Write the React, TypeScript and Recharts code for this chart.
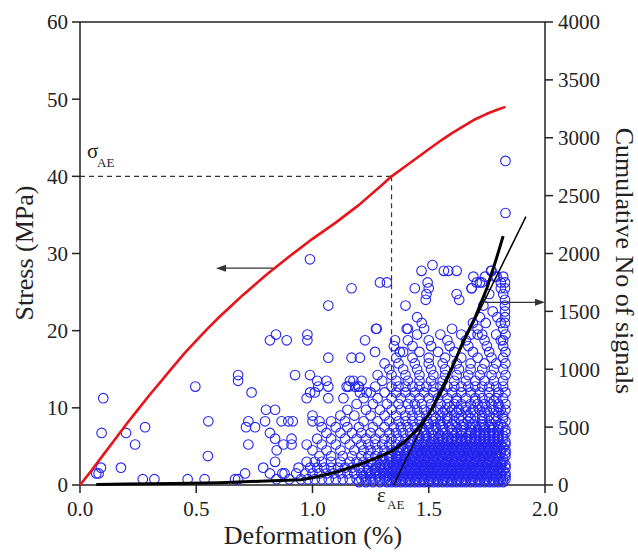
import { ComposedChart, ReferenceLine, Scatter, XAxis, YAxis } from 'recharts';

const FONT = '"Liberation Serif", "Times New Roman", serif';
const INK = '#222';

const X_TICKS = [0, 0.5, 1, 1.5, 2];
const STRESS_TICKS = [0, 10, 20, 30, 40, 50, 60];
const SIGNAL_TICKS = [0, 500, 1000, 1500, 2000, 2500, 3000, 3500, 4000];

// stress-deformation curve (left axis)
const STRESS_X = [0, 0.05, 0.1, 0.15, 0.2, 0.25, 0.3, 0.35, 0.4, 0.45, 0.5, 0.55, 0.6, 0.65, 0.7, 0.8, 0.9, 1.0, 1.1, 1.2, 1.3, 1.34, 1.4, 1.5, 1.56, 1.6, 1.65, 1.7, 1.75, 1.8, 1.83];
const STRESS_Y = [0, 1.9, 3.9, 5.9, 7.9, 9.8, 11.7, 13.5, 15.3, 17.1, 18.7, 20.3, 21.8, 23.2, 24.6, 27.2, 29.6, 31.9, 34.0, 36.3, 38.9, 40.0, 41.3, 43.5, 44.8, 45.6, 46.5, 47.4, 48.1, 48.7, 49.0];

// cumulative number of AE signals (right axis)
const CUM_X = [0.07, 0.2, 0.4, 0.6, 0.8, 0.95, 1.0, 1.1, 1.2, 1.25, 1.3, 1.34, 1.4, 1.45, 1.5, 1.55, 1.6, 1.65, 1.7, 1.75, 1.79, 1.82];
const CUM_Y = [5, 8, 12, 20, 35, 45, 62, 110, 175, 215, 255, 290, 380, 480, 610, 790, 1010, 1250, 1450, 1700, 1950, 2150];

// tangent line that defines eps_AE
const TANGENT_X = [1.348, 1.918];
const TANGENT_Y = [0, 2318];

const SIGMA_AE = 40;
const EPS_AE = 1.34;

// isolated AE hits (deformation %, MPa)
const SPARSE_HITS: [number, number][] = [
  [0.07, 1.5], [0.08, 1.5], [0.09, 2.25], [0.093, 6.75], [0.1, 11.25], [0.176, 2.25], [0.198, 6.75], [0.237, 5.25],
  [0.28, 7.5], [0.27, 0.75], [0.32, 0.75], [0.463, 0.75], [0.496, 12.75], [0.536, 0.75], [0.55, 3.75], [0.552, 8.25],
  [0.68, 14.25], [0.68, 13.5], [0.667, 0.75], [0.68, 0.75], [0.71, 1.5], [0.714, 7.5], [0.724, 8.25], [0.724, 5.25],
  [0.738, 12], [0.753, 7.5], [0.788, 2.25], [0.796, 8.25], [0.8, 9.75], [0.817, 18.75], [0.817, 6.75], [0.817, 1.5],
  [0.839, 9.75], [0.843, 19.5], [0.839, 6], [0.846, 4.5], [0.839, 3], [0.845, 0.75], [0.867, 8.25], [0.875, 5.25],
  [0.889, 18.75], [0.896, 8.25], [0.91, 6], [0.91, 5.25], [0.915, 8.25], [0.925, 14.25], [0.87, 1.5], [0.88, 1.5],
  [0.9, 0.75], [0.93, 1.5], [0.94, 2.25], [0.975, 11.25], [0.975, 5.25], [0.975, 3], [0.978, 19.5], [0.978, 18.75],
  [0.989, 29.25], [0.989, 14.25], [0.99, 12], [1.0, 9], [1.0, 8.25], [1.01, 12], [1.02, 13.5], [1.025, 12.75],
  [1.03, 8.25], [1.06, 13.5], [1.068, 12.75], [1.068, 11.25], [1.068, 23.25], [1.068, 16.5], [1.155, 12.75],
  [1.168, 25.5], [1.168, 16.5], [1.176, 13.5], [1.197, 12.75], [1.204, 16.5], [1.226, 18.75], [1.269, 17.25],
  [1.273, 20.25], [1.29, 26.25], [1.32, 26.25], [1.4, 23.25], [1.41, 20.25], [1.44, 25.5], [1.45, 21.75],
  [1.469, 27.75], [1.47, 21], [1.487, 24], [1.49, 24.75], [1.495, 26.25], [1.5, 25.5], [1.516, 28.5], [1.565, 27.75],
  [1.584, 27.75], [1.62, 27.75], [1.62, 24.75], [1.631, 24], [1.684, 25.5], [1.692, 27], [1.706, 26.25], [1.72, 26.25],
  [1.742, 27], [1.768, 27.75], [1.792, 27], [1.82, 27], [1.82, 24.75], [1.83, 35.25], [1.83, 42],
  [1.685, 25.5], [1.728, 26.25], [1.77, 27.75], [1.785, 27], [1.81, 26.25], [1.81, 25.5], [1.76, 24.75],
  [1.735, 23.25], [1.775, 22.5], [1.795, 21.75], [1.81, 21], [1.72, 21.75], [1.69, 21], [1.745, 21],
  [1.68, 19.5], [1.71, 19.5], [1.79, 19.5], [1.81, 18.75],
  [1.147, 12.75], [1.161, 13.5], [1.183, 12.75], [1.211, 13.5], [1.204, 12], [1.133, 11.25], [1.233, 12],
  [1.276, 20.25], [1.355, 18.75], [1.405, 20.25], [1.376, 17.25],
  [1.828, 21], [1.828, 21.75], [1.828, 22.5], [1.828, 23.25], [1.828, 24], [1.828, 25.5], [1.828, 26.25],
];

// dense band: amplitude levels (MPa) and the deformation of each hit on them (x100)
const DENSE_LEVELS = [0.75, 1.5, 2.25, 3, 3.75, 4.5, 5.25, 6, 6.75, 7.5, 8.25, 9, 9.75, 10.5, 11.25, 12, 12.75, 13.5, 14.25, 15, 15.75, 16.5, 17.25, 18, 18.75, 19.5, 20.25];
const DENSE_ROWS: number[][] = [
  [95, 98, 101, 104, 107, 110, 113, 116, 119, 121, 123, 125, 127, 129, 131, 133, 135, 136, 138, 139, 141, 142, 144, 145, 147, 148, 150, 151, 153, 154, 156, 157, 159, 160, 162, 163, 165, 166, 168, 169, 171, 172, 174, 175, 177, 178, 180, 181, 182, 183],
  [97, 100, 103, 106, 109, 112, 115, 118, 121, 123, 125, 127, 129, 131, 133, 134, 136, 137, 139, 140, 142, 143, 145, 146, 148, 149, 151, 152, 154, 155, 157, 158, 160, 161, 163, 164, 166, 167, 169, 170, 172, 173, 175, 176, 178, 179, 181, 183],
  [99, 102, 105, 108, 111, 114, 117, 120, 122, 124, 127, 129, 131, 133, 135, 136, 138, 139, 141, 142, 144, 145, 147, 148, 150, 151, 153, 154, 156, 157, 159, 160, 162, 163, 165, 166, 168, 169, 171, 172, 174, 175, 177, 178, 180, 181, 183],
  [101, 104, 108, 112, 116, 119, 122, 125, 128, 131, 134, 136, 137, 139, 140, 142, 143, 145, 146, 148, 149, 151, 152, 154, 155, 157, 158, 160, 161, 163, 164, 166, 167, 169, 170, 172, 173, 175, 176, 178, 179, 181, 182],
  [103, 108, 113, 117, 121, 124, 127, 130, 133, 136, 138, 140, 141, 143, 144, 146, 147, 149, 150, 152, 153, 155, 156, 158, 159, 161, 162, 164, 165, 167, 168, 170, 171, 173, 174, 176, 177, 179, 180, 183],
  [100, 106, 112, 118, 122, 125, 128, 131, 134, 137, 139, 141, 143, 145, 146, 148, 149, 151, 152, 154, 155, 157, 158, 160, 161, 163, 164, 166, 167, 169, 170, 172, 173, 175, 176, 178, 179, 181, 183],
  [104, 110, 116, 121, 124, 127, 130, 133, 136, 139, 142, 145, 147, 149, 151, 153, 155, 157, 159, 161, 163, 165, 167, 169, 171, 173, 175, 177, 179, 181, 183],
  [102, 108, 114, 119, 123, 127, 131, 134, 137, 140, 143, 146, 149, 152, 154, 156, 158, 160, 162, 164, 166, 168, 170, 172, 174, 176, 178, 180, 182],
  [106, 112, 117, 121, 125, 129, 133, 136, 139, 142, 145, 148, 151, 154, 157, 160, 162, 164, 166, 168, 170, 172, 174, 176, 178, 180, 183],
  [104, 110, 115, 120, 126, 131, 135, 138, 141, 144, 147, 150, 153, 156, 159, 162, 165, 168, 170, 172, 174, 176, 178, 180, 182],
  [108, 114, 122, 128, 133, 137, 140, 143, 146, 149, 152, 155, 158, 161, 164, 167, 170, 173, 176, 179, 183],
  [112, 118, 125, 131, 136, 140, 143, 146, 149, 152, 155, 158, 161, 164, 167, 170, 173, 176, 179, 182],
  [115, 123, 129, 134, 138, 142, 145, 148, 151, 154, 157, 160, 163, 166, 169, 172, 175, 178, 181, 183],
  [119, 126, 132, 137, 141, 144, 147, 151, 155, 158, 161, 164, 168, 171, 174, 177, 180, 183],
  [122, 128, 134, 138, 142, 146, 150, 154, 158, 162, 166, 170, 173, 176, 179, 182],
  [125, 131, 136, 140, 144, 148, 152, 156, 160, 164, 168, 172, 176, 180, 183],
  [120, 127, 134, 137, 140, 143, 146, 149, 152, 155, 158, 161, 164, 167, 170, 173, 176, 179, 182],
  [130, 136, 141, 146, 151, 156, 161, 166, 170, 174, 178, 182],
  [128, 134, 140, 146, 152, 157, 162, 167, 172, 177, 183],
  [133, 139, 145, 151, 157, 163, 168, 173, 178, 182],
  [131, 137, 144, 150, 156, 162, 168, 174, 179, 183],
  [136, 143, 150, 157, 164, 171, 177, 182],
  [139, 146, 154, 161, 169, 176, 183],
  [135, 143, 151, 159, 167, 175, 182],
  [141, 150, 158, 166, 174, 182],
  [145, 155, 164, 173, 183],
  [148, 160, 171, 182],
];

// in-between amplitude levels, only filled in the saturated lower-right part
const HALF_LEVELS = [0.375, 1.125, 1.875, 2.625, 3.375, 4.125, 4.875, 5.625, 6.375, 7.125, 7.875, 8.625, 9.375, 10.125, 10.875];
const HALF_ROWS: number[][] = [
  [120, 123, 126, 129, 132, 134, 136, 138, 140, 142, 144, 146, 148, 150, 152, 154, 156, 158, 160, 162, 164, 166, 168, 170, 172, 174, 176, 178, 180, 182],
  [122, 125, 128, 131, 133, 135, 137, 139, 141, 143, 145, 147, 149, 151, 153, 155, 157, 159, 161, 163, 165, 167, 169, 171, 173, 175, 177, 179, 181, 183],
  [124, 127, 130, 132, 134, 136, 138, 140, 142, 144, 146, 148, 150, 152, 154, 156, 158, 160, 162, 164, 166, 168, 170, 172, 174, 176, 178, 180, 182],
  [126, 129, 131, 133, 135, 137, 139, 141, 143, 145, 147, 149, 151, 153, 155, 157, 159, 161, 163, 165, 167, 169, 171, 173, 175, 177, 179, 181, 183],
  [130, 133, 136, 138, 140, 142, 144, 146, 148, 150, 152, 154, 156, 158, 160, 162, 164, 166, 168, 170, 172, 174, 176, 178, 180, 182],
  [134, 137, 140, 143, 145, 147, 149, 151, 153, 155, 157, 159, 161, 163, 165, 167, 169, 171, 173, 175, 177, 179, 181, 183],
  [138, 141, 144, 146, 148, 150, 152, 154, 156, 158, 160, 162, 164, 166, 168, 170, 172, 174, 176, 178, 180, 182],
  [142, 145, 148, 151, 154, 156, 158, 160, 162, 164, 166, 168, 170, 172, 174, 176, 178, 180, 183],
  [146, 149, 152, 155, 158, 161, 164, 167, 170, 172, 174, 176, 178, 180, 182],
  [148, 152, 156, 160, 164, 168, 171, 174, 177, 180, 183],
  [150, 155, 160, 165, 169, 173, 177, 181],
  [153, 158, 163, 168, 173, 178, 182],
  [156, 162, 168, 174, 180],
  [159, 166, 173, 180],
  [162, 170, 178],
];

const stressData = STRESS_X.map((x, i) => ({ x, y: STRESS_Y[i] }));
const cumData = CUM_X.map((x, i) => ({ x, y: CUM_Y[i] }));
const tangentData = TANGENT_X.map((x, i) => ({ x, y: TANGENT_Y[i] }));
const hitData = [
  ...DENSE_ROWS.flatMap((row, i) => row.map((v) => ({ x: v / 100, y: DENSE_LEVELS[i] }))),
  ...HALF_ROWS.flatMap((row, i) => row.map((v) => ({ x: v / 100, y: HALF_LEVELS[i] }))),
  ...SPARSE_HITS.map(([x, y]) => ({ x, y })),
];

const HitCircle = (props: any) => (
  <circle cx={props.cx} cy={props.cy} r={4.8} fill="none" stroke="#2424f0" strokeWidth={1.1} />
);
const NoDot = () => <g />;

const ArrowLine = (props: any) => {
  const { x1, y1, x2, y2 } = props;
  const a = Math.atan2(y2 - y1, x2 - x1);
  const bx = x2 - 10 * Math.cos(a);
  const by = y2 - 10 * Math.sin(a);
  const ox = -Math.sin(a) * 3.5;
  const oy = Math.cos(a) * 3.5;
  return (
    <g>
      <line x1={x1} y1={y1} x2={bx} y2={by} stroke="#333" strokeWidth={1.3} />
      <polygon points={`${x2},${y2} ${bx + ox},${by + oy} ${bx - ox},${by - oy}`} fill="#333" />
    </g>
  );
};

const tickStyle = { fill: INK, fontSize: 21, fontFamily: FONT };

export default function App() {
  return (
    <div style={{ position: 'absolute', left: 0, top: 0, width: 638, height: 553, background: '#fff' }}>
      <ComposedChart width={638} height={553} margin={{ top: 22, right: 0, bottom: 0, left: 0 }} style={{ fontFamily: FONT }}>
        <XAxis
          dataKey="x"
          type="number"
          domain={[0, 2]}
          ticks={X_TICKS}
          tickFormatter={(v: number) => v.toFixed(1)}
          height={68}
          tick={tickStyle}
          tickSize={8}
          tickMargin={8}
          stroke={INK}
          strokeWidth={1.5}
        />
        <YAxis
          yAxisId="left"
          domain={[0, 60]}
          ticks={STRESS_TICKS}
          width={80}
          tick={tickStyle}
          tickSize={8}
          tickMargin={4}
          stroke={INK}
          strokeWidth={1.5}
        />
        <YAxis
          yAxisId="right"
          orientation="right"
          domain={[0, 4000]}
          ticks={SIGNAL_TICKS}
          width={93}
          tick={tickStyle}
          tickSize={8}
          tickMargin={5}
          stroke={INK}
          strokeWidth={1.5}
        />
        <ReferenceLine yAxisId="left" y={60} stroke={INK} strokeWidth={1.5} />
        <ReferenceLine
          yAxisId="left"
          segment={[{ x: 0, y: SIGMA_AE }, { x: EPS_AE, y: SIGMA_AE }]}
          stroke="#333"
          strokeDasharray="5 4"
          strokeWidth={1.2}
        />
        <ReferenceLine
          yAxisId="left"
          segment={[{ x: EPS_AE, y: SIGMA_AE }, { x: EPS_AE, y: 0 }]}
          stroke="#333"
          strokeDasharray="5 4"
          strokeWidth={1.2}
        />
        <Scatter yAxisId="left" data={hitData} dataKey="y" shape={HitCircle} isAnimationActive={false} />
        <Scatter
          yAxisId="left"
          data={stressData}
          dataKey="y"
          shape={NoDot}
          line={{ stroke: '#e8141a', strokeWidth: 2.6, strokeLinejoin: 'round' }}
          lineType="joint"
          isAnimationActive={false}
        />
        <Scatter
          yAxisId="right"
          data={cumData}
          dataKey="y"
          shape={NoDot}
          line={{ stroke: '#000', strokeWidth: 3, strokeLinejoin: 'round' }}
          lineType="joint"
          isAnimationActive={false}
        />
        <Scatter
          yAxisId="right"
          data={tangentData}
          dataKey="y"
          shape={NoDot}
          line={{ stroke: '#000', strokeWidth: 1.5 }}
          lineType="joint"
          isAnimationActive={false}
        />
        <ReferenceLine yAxisId="left" segment={[{ x: 0.83, y: 28.1 }, { x: 0.585, y: 28.1 }]} shape={ArrowLine} />
        <ReferenceLine yAxisId="right" segment={[{ x: 1.742, y: 1578 }, { x: 2, y: 1578 }]} shape={ArrowLine} />
      </ComposedChart>
      <svg width={638} height={553} style={{ position: 'absolute', left: 0, top: 0, pointerEvents: 'none' }} fontFamily={FONT} fill={INK}>
        <text x={24} y={253} fontSize={26} textAnchor="middle" dominantBaseline="central" transform="rotate(-90 24 253)">
          Stress (MPa)
        </text>
        <text x={624} y={261} fontSize={26} textAnchor="middle" dominantBaseline="central" transform="rotate(90 624 261)">
          Cumulative No of signals
        </text>
        <text x={313} y={544} fontSize={26} textAnchor="middle">
          Deformation (%)
        </text>
        <text x={87} y={158} fontSize={21}>σ</text>
        <text x={97} y={167} fontSize={13}>AE</text>
        <text x={377} y={502} fontSize={21}>ε</text>
        <text x={387} y={509} fontSize={13}>AE</text>
      </svg>
    </div>
  );
}
